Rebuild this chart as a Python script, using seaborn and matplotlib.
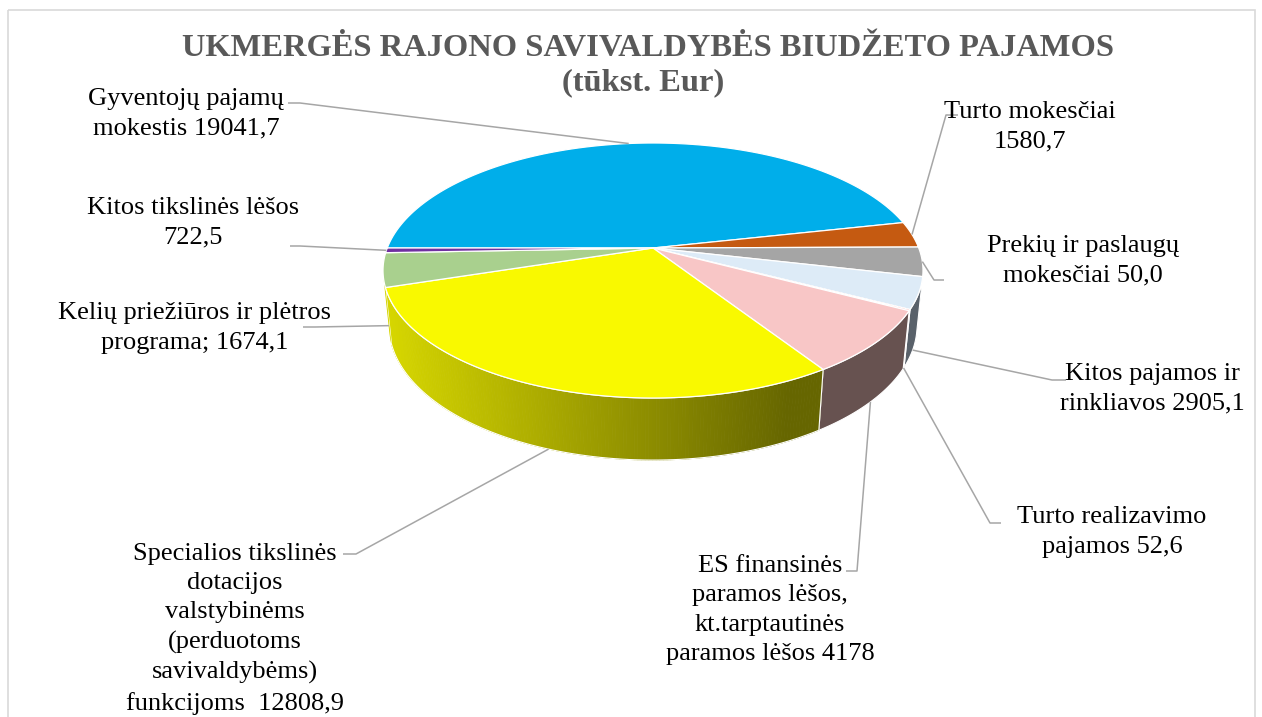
import numpy as np
import matplotlib
matplotlib.use("Agg")
import matplotlib.pyplot as plt
import seaborn as sns

# slices in drawing order, clockwise from the left edge of the pie
categories = ["Gyventojų pajamų mokestis", "Turto mokesčiai", "Prekių ir paslaugų mokesčiai",
              "Kitos pajamos ir rinkliavos", "Turto realizavimo pajamos",
              "ES finansinės paramos lėšos", "Specialios tikslinės dotacijos",
              "Kelių priežiūros ir plėtros programa", "Kitos tikslinės lėšos"]
# share of the pie (%) as it is drawn in the picture
shares = [46.6, 3.3, 3.7, 4.0, 0.15, 8.1, 29.3, 4.3, 0.6]
# data labels exactly as printed
label_texts = [
    "Gyventojų pajamų\nmokestis 19041,7",
    "Turto mokesčiai\n1580,7",
    "Prekių ir paslaugų\nmokesčiai 50,0",
    "Kitos pajamos ir\nrinkliavos 2905,1",
    "Turto realizavimo\npajamos 52,6",
    "ES finansinės\nparamos lėšos,\nkt.tarptautinės\nparamos lėšos 4178",
    "Specialios tikslinės\ndotacijos\nvalstybinėms\n(perduotoms\nsavivaldybėms)\nfunkcijoms  12808,9",
    "Kelių priežiūros ir plėtros\nprograma; 1674,1",
    "Kitos tikslinės lėšos\n722,5",
]
top_colors = ["#00AEEA", "#C55A11", "#A5A5A5", "#DDEBF7", "#FF0000",
              "#F8C6C6", "#F9F900", "#A9D08E", "#7030A0"]
wall_colors = ["#00577a", "#6b2e09", "#5a5a5a", "#59616a", "#8a0000",
               "#675250", None, "#d6d600", "#3a1855"]

# label placement (centre of text block) and leader start / shoulder, in pixels
label_pos = [(186, 114), (1030, 127), (1083, 261), (1152, 389), (1112, 532),
             (770, 610), (235, 629), (195, 328), (193, 223)]
leader_start = [(288, 103, 12), (958, 115, -12), (944, 280, -10), (1066, 380, -14),
                (1001, 523, -11), (846, 571, 11), (343, 554, 13), (303, 327, 12),
                (290, 246, 10)]

# fake-3D geometry: apex on screen, focal length, camera distance, tilt, thickness
APEX = (653, 248)
FOCAL, DIST, TILT, DEPTH = 1333, 5.016, np.radians(27.7), 0.237


def project(phi, h=0.0):
    x, z = np.cos(phi), np.sin(phi)
    yc = h * np.cos(TILT) + z * np.sin(TILT)
    dd = DIST + z * np.cos(TILT) - h * np.sin(TILT)
    return APEX[0] + FOCAL * x / dd, APEX[1] - FOCAL * yc / dd


sns.set_theme(style="white")
plt.rcParams['font.family'] = ['Liberation Serif', 'DejaVu Serif']

fig = plt.figure(figsize=(12.62, 7.17), dpi=100)
ax = fig.add_axes([0, 0, 1, 1])
ax.set_xlim(0, 1262)
ax.set_ylim(717, 0)
ax.axis('off')

frac = np.array(shares) / np.sum(shares)
edges = np.pi - 2 * np.pi * np.concatenate([[0], np.cumsum(frac)])

# side walls, only where the outer wall faces the viewer
k = np.arcsin(1 / (DIST * np.cos(TILT)))
for i in range(len(shares)):
    a0, a1 = edges[i], edges[i + 1]
    lo, hi = max(a1, -np.pi + k), min(a0, -k)
    if lo >= hi:
        continue
    if wall_colors[i] is None:
        steps = np.linspace(lo, hi, 160)
        for s0, s1 in zip(steps[:-1], steps[1:]):
            ph = np.linspace(s0, s1, 3)
            tx, ty = project(ph)
            bx, by = project(ph[::-1], -DEPTH)
            t = np.clip((tx.mean() - 388) / (790 - 388), 0, 1)
            g = 0.84 * (1 - t) + 0.40 * t
            col = (g, g, 0.0)
            ax.fill(np.r_[tx, bx], np.r_[ty, by], color=col, lw=0.6, ec=col)
    ph = np.linspace(lo, hi, 80)
    tx, ty = project(ph)
    bx, by = project(ph[::-1], -DEPTH)
    ax.fill(np.r_[tx, bx], np.r_[ty, by],
            fc=wall_colors[i] if wall_colors[i] else 'none',
            ec='white', lw=0.8 if wall_colors[i] != "#d6d600" else 0)

# top faces
for i in range(len(shares)):
    ph = np.linspace(edges[i], edges[i + 1], 120)
    rx, ry = project(ph)
    ax.fill(np.r_[APEX[0], rx], np.r_[APEX[1], ry], fc=top_colors[i], ec='white', lw=0.9)

# leaders and labels
for i, txt in enumerate(label_texts):
    mid = (edges[i] + edges[i + 1]) / 2
    px, py = project(mid, -DEPTH) if np.sin(mid) < -0.14 else project(mid)
    sx, sy, sh = leader_start[i]
    ax.plot([sx, sx + sh, px], [sy, sy, py], color='#A6A6A6', lw=1.1,
            solid_capstyle='butt')
    ax.text(label_pos[i][0], label_pos[i][1], txt, ha='center', va='center',
            fontsize=19, color='black', linespacing=1.42)

ax.text(648, 48, "UKMERGĖS RAJONO SAVIVALDYBĖS BIUDŽETO PAJAMOS", ha='center',
        va='center', fontsize=23.4, fontweight='bold', color='#595959')
ax.text(643, 83, "(tūkst. Eur)", ha='center', va='center', fontsize=23.4,
        fontweight='bold', color='#595959')

ax.add_patch(plt.Rectangle((8, 10), 1247, 730, fill=False, ec='#D9D9D9', lw=1.2))

fig.savefig("out.png", dpi=100)
